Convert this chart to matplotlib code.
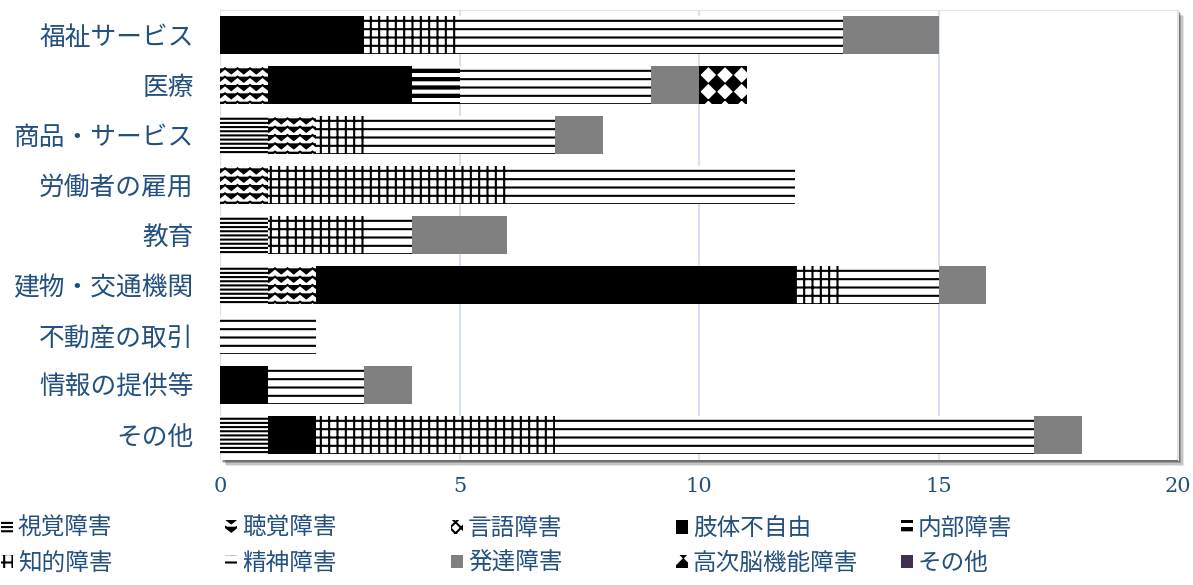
import numpy as np
import matplotlib
matplotlib.use("Agg")
import matplotlib.pyplot as plt
import matplotlib.hatch as mhatch
from matplotlib.path import Path
from matplotlib.patches import Rectangle, Patch

# ---------------- data ----------------
categories = ['福祉サービス', '医療', '商品・サービス', '労働者の雇用', '教育',
              '建物・交通機関', '不動産の取引', '情報の提供等', 'その他']
series_names = ['視覚障害', '聴覚障害', '言語障害', '肢体不自由', '内部障害',
                '知的障害', '精神障害', '発達障害', '高次脳機能障害', 'その他']
visual      = [0, 0, 1, 0, 1, 1, 0, 0, 1]
hearing     = [0, 1, 1, 1, 0, 1, 0, 0, 0]
speech      = [0, 0, 0, 0, 0, 0, 0, 0, 0]
physical    = [3, 3, 0, 0, 0, 10, 0, 1, 1]
internal    = [0, 1, 0, 0, 0, 0, 0, 0, 0]
intellect   = [2, 0, 1, 5, 2, 1, 0, 0, 5]
mental      = [8, 4, 4, 6, 1, 2, 2, 2, 10]
develop     = [2, 1, 1, 0, 2, 1, 0, 1, 1]
brain       = [0, 1, 0, 0, 0, 0, 0, 0, 0]
other       = [0, 0, 0, 0, 0, 0, 0, 0, 0]
series_values = [visual, hearing, speech, physical, internal,
                 intellect, mental, develop, brain, other]
x_ticks = [0, 5, 10, 15, 20]


# ---------------- custom hatch patterns ----------------
class ZigZagHatch(mhatch.HatchPatternBase):
    """wavy (zigzag) horizontal rows, triggered by '*'"""
    def __init__(self, hatch, density):
        self.num_lines = int(hatch.count('*') * density)
        self.teeth = int(round(self.num_lines * 0.7))
        self.m = 2 * self.teeth + 1
        self.num_vertices = self.num_lines * self.m if self.num_lines else 0

    def set_vertices_and_codes(self, vertices, codes):
        n = self.num_lines
        if n == 0:
            return
        m = self.m
        step = 1.0 / n
        xs = np.linspace(0, 1, m)
        amp = step * 0.3
        off = np.where(np.arange(m) % 2 == 0, amp, -amp)
        for i in range(n):
            y0 = (i + 0.5) * step
            vertices[i * m:(i + 1) * m, 0] = xs
            vertices[i * m:(i + 1) * m, 1] = y0 + off
            codes[i * m] = Path.MOVETO
            codes[i * m + 1:(i + 1) * m] = Path.LINETO


class DiamondHatch(mhatch.HatchPatternBase):
    """filled diamonds on an aligned grid, triggered by 'O'"""
    def __init__(self, hatch, density):
        self.n = int(hatch.count('O') * density)
        self.num_vertices = ((self.n + 1) ** 2) * 5 if self.n else 0

    def set_vertices_and_codes(self, vertices, codes):
        n = self.n
        if n == 0:
            return
        step = 1.0 / n
        r = step * 0.44
        shape = np.array([[0, r], [-r, 0], [0, -r], [r, 0], [0, r]])
        k = 0
        for i in range(n + 1):
            for j in range(n + 1):
                vertices[k:k + 5] = shape + [i * step, j * step]
                codes[k] = Path.MOVETO
                codes[k + 1:k + 4] = Path.LINETO
                codes[k + 4] = Path.CLOSEPOLY
                k += 5


class ThickHorizontalHatch(mhatch.HatchPatternBase):
    """thick horizontal lines, triggered by 'o'"""
    def __init__(self, hatch, density):
        self.num_lines = int(hatch.count('o') * density)
        self.num_vertices = self.num_lines * 2 * 3

    def set_vertices_and_codes(self, vertices, codes):
        n = self.num_lines
        if n == 0:
            return
        step = 1.0 / n
        k = 0
        for i in range(n):
            for d in (-0.011, 0.0, 0.011):
                yy = (i + 0.5) * step + d
                vertices[k] = (0.0, yy)
                vertices[k + 1] = (1.0, yy)
                codes[k] = Path.MOVETO
                codes[k + 1] = Path.LINETO
                k += 2


new_types = []
for t in mhatch._hatch_types:
    if t is mhatch.Stars:
        new_types.append(ZigZagHatch)
    elif t is mhatch.LargeCircles:
        new_types.append(DiamondHatch)
    elif t is mhatch.SmallCircles:
        new_types.append(ThickHorizontalHatch)
    else:
        new_types.append(t)
mhatch._hatch_types[:] = new_types

# ---------------- style ----------------
plt.rcParams['font.family'] = ['Noto Sans CJK JP', 'DejaVu Sans']
plt.rcParams['hatch.linewidth'] = 1.5
text_color = '#24507f'

styles = [
    dict(facecolor='white', hatch='----'),   # 視覚
    dict(facecolor='white', hatch='**'),     # 聴覚
    dict(facecolor='white', hatch='xxx'),    # 言語
    dict(facecolor='black', hatch=None),     # 肢体
    dict(facecolor='white', hatch='oo'),     # 内部 (thick lines)
    dict(facecolor='white', hatch='++'),     # 知的
    dict(facecolor='white', hatch='--'),     # 精神
    dict(facecolor='#808080', hatch=None),   # 発達
    dict(facecolor='white', hatch='O'),      # 高次脳
    dict(facecolor='#403152', hatch=None),   # その他
]

W, H = 1193, 585
fig = plt.figure(figsize=(W / 100, H / 100), dpi=100)
fig.patch.set_facecolor('white')

ax_l, ax_r, ax_t, ax_b = 220, 1178, 10, 460
ax = fig.add_axes([ax_l / W, 1 - ax_b / H, (ax_r - ax_l) / W, (ax_b - ax_t) / H])

# soft shadow behind plot area
for i, a in enumerate([0.10, 0.14, 0.20, 0.28]):
    o = 6 - i * 1.3
    fig.patches.append(Rectangle(((ax_l + o) / W, 1 - (ax_b + o) / H),
                                 (ax_r - ax_l) / W, (ax_b - ax_t) / H,
                                 transform=fig.transFigure, facecolor='black',
                                 alpha=a, edgecolor='none', zorder=0))
ax.set_facecolor('white')
ax.set_zorder(1)

y = np.arange(len(categories))
left = np.zeros(len(categories))
handles = []
for name, vals, st in zip(series_names, series_values, styles):
    vals = np.array(vals, dtype=float)
    ax.barh(y, vals, left=left, height=0.75, facecolor=st['facecolor'],
            hatch=st['hatch'], edgecolor='black', linewidth=0, zorder=3)
    left += vals
    handles.append(Patch(facecolor=st['facecolor'], hatch=st['hatch'],
                         edgecolor='black', linewidth=0, label=name))

ax.set_xlim(0, 20)
ax.set_ylim(len(categories) - 0.5, -0.5)
ax.set_xticks(x_ticks)
ax.set_xticklabels([str(v) for v in x_ticks], family='DejaVu Serif',
                   fontsize=15, color=text_color)
ax.set_yticks(y)
ax.set_yticklabels(categories, fontsize=18.5, color=text_color)
ax.tick_params(axis='x', length=0, pad=12)
ax.tick_params(axis='y', length=0, pad=19)
ax.grid(axis='x', color='#d6e2f3', linewidth=1.5, zorder=0)
ax.set_axisbelow(True)
for s in ['left', 'bottom']:
    ax.spines[s].set_visible(False)
for s in ['top', 'right']:
    ax.spines[s].set_color('#e4e4e4')
    ax.spines[s].set_linewidth(0.8)

# legend: 5 columns x 2 rows, fixed grid
col_x = [1, 225, 451, 676, 901]
for c in range(5):
    hs = [handles[c], handles[c + 5]]
    fig.legend(handles=hs, loc='upper left',
               bbox_to_anchor=(col_x[c] / W, 1 - 517 / H),
               frameon=False, fontsize=17.0, labelcolor=text_color,
               handlelength=0.52, handleheight=0.52, handletextpad=0.2,
               borderpad=0, borderaxespad=0, labelspacing=0.5)

fig.savefig('out.png', dpi=100, facecolor='white')
